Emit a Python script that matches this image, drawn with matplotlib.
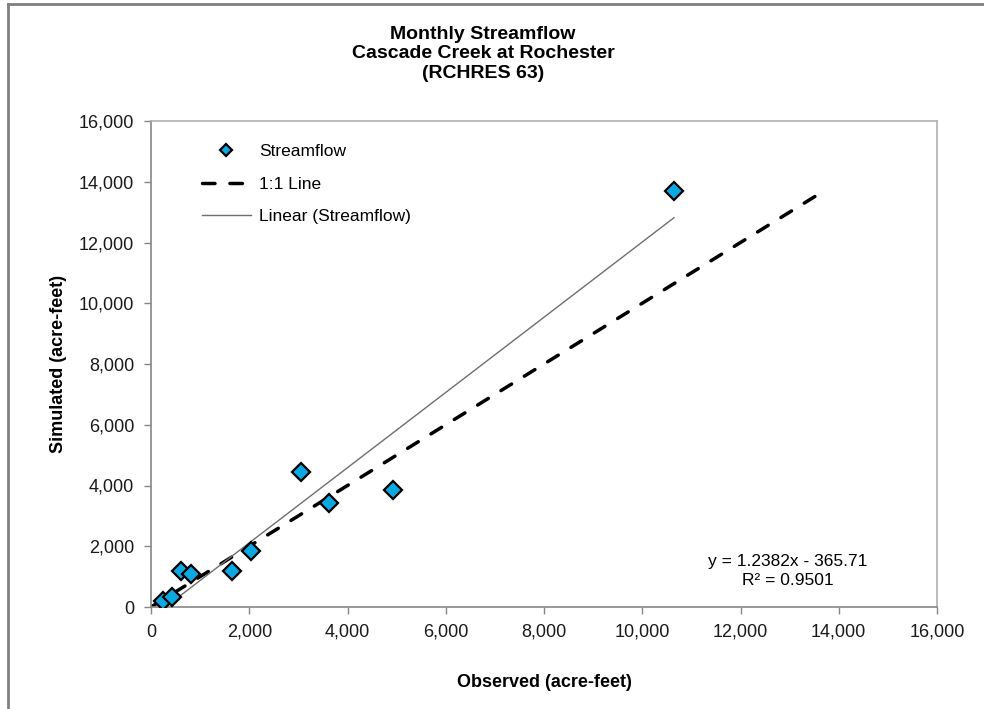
import matplotlib
matplotlib.use("Agg")
from matplotlib import pyplot as plt
from matplotlib.lines import Line2D
from matplotlib.ticker import FuncFormatter, MultipleLocator
import numpy as np

plt.rcParams['font.family'] = ['Liberation Sans Narrow', 'Liberation Sans', 'DejaVu Sans']

# monthly streamflow, acre-feet
observed = [250, 422, 605, 809, 1643, 2037, 3055, 3625, 4929, 10645]
simulated = [188, 330, 1179, 1080, 1179, 1840, 4458, 3425, 3854, 13710]
slope = 1.2382
intercept = -365.71
r2 = 0.9501

fig = plt.figure(figsize=(9.84, 7.09), dpi=100)
ax = fig.add_axes([151/984, 1 - 607/709, 786/984, 486/709])

# 1:1 line up to the largest simulated value
top = max(simulated)
ax.plot([0, top], [0, top], color='black', lw=2.5, linestyle=(0, (3.6, 4.3)),
        dash_capstyle='round', label='1:1 Line', zorder=2)

# linear trendline over the data range
xs = np.array([0, max(observed)])
ax.plot(xs, slope * xs + intercept, color='#6e6e6e', lw=1.0,
        label='Linear (Streamflow)', zorder=2)

ax.plot(observed, simulated, linestyle='none', marker='D', markersize=9.5,
        markerfacecolor='#0aa9e2', markeredgecolor='black', markeredgewidth=1.6,
        label='Streamflow', zorder=3)

ax.set_xlim(0, 16000)
ax.set_ylim(0, 16000)
ax.xaxis.set_major_locator(MultipleLocator(2000))
ax.yaxis.set_major_locator(MultipleLocator(2000))
fmt = FuncFormatter(lambda v, p: f'{int(v):,}')
ax.xaxis.set_major_formatter(fmt)
ax.yaxis.set_major_formatter(fmt)
ax.tick_params(direction='out', length=5, width=1, color='#868686',
               labelsize=13, pad=7, labelcolor='#1a1a1a')
for s in ['left', 'bottom']:
    ax.spines[s].set_color('#868686')
    ax.spines[s].set_linewidth(1.2)
for s in ['right', 'top']:
    ax.spines[s].set_color('#b0b0b0')
    ax.spines[s].set_linewidth(1.2)

ax.set_xlabel('Observed (acre-feet)', fontsize=13, fontweight='bold', labelpad=24)
ax.set_ylabel('Simulated (acre-feet)', fontsize=13, fontweight='bold', labelpad=0)
ax.yaxis.set_label_coords(-84/786, 0.5)

fig.text(483/984, 1 - 54/709, 'Monthly Streamflow\nCascade Creek at Rochester\n(RCHRES 63)',
         ha='center', va='center', fontsize=14, fontweight='bold', linespacing=1.2)

ax.text(788/984, 1 - 571/709, f'y = {slope}x - {abs(intercept)}\nR² = {r2}',
        transform=fig.transFigure, ha='center', va='center', fontsize=12.5,
        linespacing=1.4)

h, l = ax.get_legend_handles_labels()
order = [2, 0, 1]
ax.legend([h[i] for i in order], [l[i] for i in order], loc='upper left',
          bbox_to_anchor=(0.045, 0.985), frameon=False, fontsize=12.5,
          markerscale=0.65, handlelength=2.8, labelspacing=1.0, handletextpad=0.5)

# chart border (left and top visible)
fig.add_artist(Line2D([8/984, 8/984], [0, 1 - 4/709], color='#808080', lw=2))
fig.add_artist(Line2D([8/984, 1], [1 - 4/709, 1 - 4/709], color='#808080', lw=2))

fig.savefig('out.png', dpi=100)
